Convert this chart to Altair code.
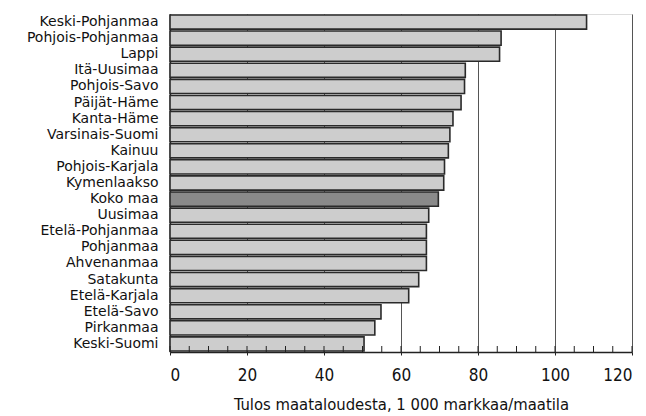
import altair as alt
import pandas as pd

regions = ["Keski-Pohjanmaa", "Pohjois-Pohjanmaa", "Lappi", "Itä-Uusimaa", "Pohjois-Savo",
           "Päijät-Häme", "Kanta-Häme", "Varsinais-Suomi", "Kainuu", "Pohjois-Karjala",
           "Kymenlaakso", "Koko maa", "Uusimaa", "Etelä-Pohjanmaa", "Pohjanmaa",
           "Ahvenanmaa", "Satakunta", "Etelä-Karjala", "Etelä-Savo", "Pirkanmaa", "Keski-Suomi"]
values = [108.2, 86.0, 85.6, 76.7, 76.5, 75.6, 73.5, 72.7, 72.3, 71.3, 71.1, 69.7,
          67.2, 66.6, 66.6, 66.6, 64.6, 62.0, 54.8, 53.2, 50.4]
major_ticks = [0, 20, 40, 60, 80, 100, 120]
minor_ticks = list(range(0, 121, 5))

COND = "DejaVu Sans Condensed, Liberation Sans Narrow, sans-serif"
LABEL = "DejaVu Sans, sans-serif"
W, H = 462, 338

df = pd.DataFrame({"region": regions, "value": values,
                   "kind": ["total" if r == "Koko maa" else "region" for r in regions]})
ticks_df = pd.DataFrame({"t": minor_ticks})

xscale = alt.Scale(domain=[0, 120], nice=False)

bars = alt.Chart(df).mark_bar(stroke="#2a2a2a", strokeWidth=1.6).encode(
    x=alt.X("value:Q", scale=xscale,
            axis=alt.Axis(values=major_ticks, title="Tulos maataloudesta, 1 000 markkaa/maatila",
                          grid=True, gridColor="#555555", gridWidth=1,
                          labelFont=COND, labelFontSize=17, labelColor="#111111",
                          labelPadding=12, tickSize=3, tickColor="#222222",
                          domainColor="#222222", domainWidth=1.5,
                          titleFont=COND, titleFontSize=16.5, titleFontWeight="normal",
                          titleColor="#111111", titlePadding=13)),
    y=alt.Y("region:N", sort=regions,
            scale=alt.Scale(paddingInner=0.12, paddingOuter=0.06),
            axis=alt.Axis(title=None, ticks=False, domain=True, domainColor="#222222",
                          domainWidth=1.5, labelFont=LABEL, labelFontSize=14,
                          labelColor="#111111", labelPadding=12)),
    color=alt.Color("kind:N", scale=alt.Scale(domain=["region", "total"],
                                              range=["#cdcdcd", "#8a8a8a"]), legend=None),
)

minor = alt.Chart(ticks_df).mark_rule(color="#222222", strokeWidth=1).encode(
    x=alt.X("t:Q", scale=xscale),
    y=alt.value(H - 6),
    y2=alt.value(H),
)

chart = alt.layer(bars, minor).properties(
    width=W, height=H,
    autosize=alt.AutoSizeParams(type="none"),
    padding={"left": 162, "top": 6, "right": 6, "bottom": 62},
).configure_view(stroke="#333333", strokeWidth=1.2).configure(background="white")

chart.save("out.html", embed_options={"renderer": "svg", "actions": False})
